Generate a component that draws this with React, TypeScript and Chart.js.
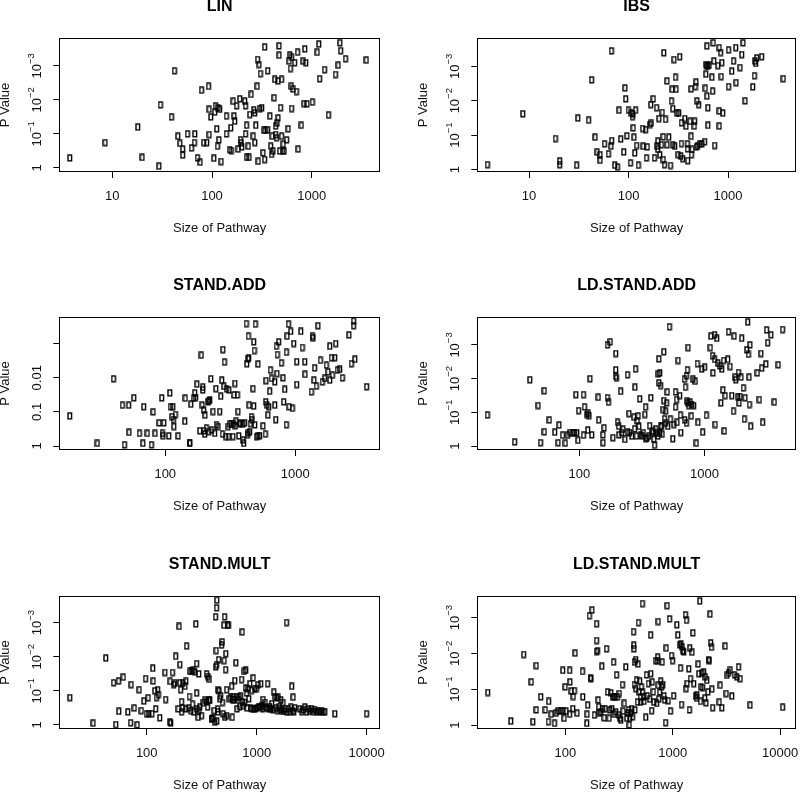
import React, { useEffect, useRef } from "react";
import { Chart, registerables } from "chart.js";

Chart.register(...registerables);

const FONT = "'Liberation Sans', Arial, Helvetica, sans-serif";

// ---------- text ----------
const panelTitles = ["LIN", "IBS", "STAND.ADD", "LD.STAND.ADD", "STAND.MULT", "LD.STAND.MULT"];
const xAxisTitle = "Size of Pathway";
const yAxisTitle = "P Value";

// ---------- tick values / labels ----------
const xTicksLinIbs = [10, 100, 1000];
const xTicksAdd = [100, 1000];
const xTicksMult = [100, 1000, 10000];
const yTickValues = [1, 0.1, 0.01, 0.001];
const yTickLabelsPow = [["1", ""], ["10", "\u22121"], ["10", "\u22122"], ["10", "\u22123"]];
const yTickLabelsDec = [["1", ""], ["0.1", ""], ["0.01", ""], ["", ""]];

// ---------- data: LIN ----------
const linSize = [3.76, 8.5, 18.1, 20, 29.5, 30.5, 39.4, 42.2, 45.7, 47.9, 51, 51, 57, 62.5, 67.6, 67, 71.8, 76.4, 83, 78.8, 89, 92.7, 94, 94, 97.7, 105, 107, 109, 112, 114, 116, 118, 120, 124, 140, 140, 151, 155, 157, 164, 167, 170, 177, 184, 191, 194, 197, 200, 214, 218, 218, 223, 223, 232, 237, 240, 248, 260, 264, 270, 270, 276, 285, 288, 292, 298, 303, 307, 317, 327, 332, 339, 339, 345, 363, 363, 383, 390, 397, 403, 412, 422, 428, 436, 436, 446, 452, 462, 462, 473, 473, 479, 489, 500, 500, 513, 520, 532, 562, 583, 597, 605, 614, 627, 630, 630, 654, 677, 705, 724, 734, 790, 824, 843, 857, 877, 903, 1020, 1140, 1185, 1205, 1350, 1480, 1740, 1850, 1930, 1960, 2190, 3540];
const linP = [0.51, 0.18, 0.063, 0.49, 0.89, 0.014, 0.032, 0.0014, 0.117, 0.19, 0.28, 0.42, 0.1, 0.26, 0.1, 0.18, 0.51, 0.68, 0.18, 0.0052, 0.18, 0.004, 0.105, 0.019, 0.032, 0.52, 0.023, 0.015, 0.071, 0.23, 0.017, 0.15, 0.019, 0.65, 0.1, 0.03, 0.29, 0.066, 0.31, 0.011, 0.03, 0.042, 0.015, 0.28, 0.0093, 0.15, 0.18, 0.24, 0.011, 0.015, 0.1, 0.056, 0.49, 0.23, 0.49, 0.027, 0.0069, 0.117, 0.02, 0.024, 0.18, 0.056, 0.004, 0.00065, 0.64, 0.00091, 0.018, 0.0017, 0.017, 0.36, 0.079, 0.00028, 0.57, 0.079, 0.0014, 0.075, 0.03, 0.23, 0.4, 0.117, 0.32, 0.0087, 0.0025, 0.059, 0.105, 0.13, 0.048, 0.0028, 0.034, 0.00026, 0.00049, 0.32, 0.017, 0.117, 0.0025, 0.32, 0.2, 0.32, 0.15, 0.071, 0.00073, 0.00048, 0.0012, 0.004, 0.018, 0.00056, 0.0048, 0.00081, 0.0057, 0.0004, 0.28, 0.056, 0.00073, 0.0129, 0.00032, 0.00081, 0.013, 0.0117, 0.0004, 0.00023, 0.0024, 0.0013, 0.028, 0.0018, 0.00096, 0.00021, 0.00036, 0.00062, 0.00068];

// ---------- data: IBS ----------
const ibsSize = [3.83, 8.7, 18.5, 20.4, 20.4, 30.2, 31.1, 39.8, 42.7, 46.4, 48.6, 52, 52, 57.5, 63, 67.6, 67, 68, 73, 77.6, 80.7, 83.8, 89.8, 92.6, 94, 97, 100, 105, 107, 110, 111, 112, 114, 116, 118, 121, 126, 139, 141, 149, 152, 155, 166, 168, 170, 178, 183, 192, 195, 198, 198, 203, 207, 215, 219, 224, 224, 227, 231, 236, 245, 245, 255, 265, 271, 275, 280, 280, 288, 293, 297, 302, 309, 316, 321, 328, 336, 341, 341, 352, 369, 380, 392, 392, 395, 417, 427, 427, 430, 437, 460, 464, 471, 479, 482, 490, 497, 509, 521, 550, 584, 602, 593, 602, 612, 617, 617, 630, 630, 630, 650, 692, 703, 713, 724, 736, 794, 819, 819, 819, 845, 858, 871, 891, 1016, 1016, 1096, 1140, 1202, 1211, 1327, 1380, 1423, 1490, 1780, 1849, 1875, 1906, 1950, 2188, 3605];
const ibsP = [0.72, 0.024, 0.126, 0.57, 0.72, 0.75, 0.032, 0.037, 0.0025, 0.115, 0.31, 0.37, 0.54, 0.18, 0.35, 0.00036, 0.21, 0.145, 0.75, 0.84, 0.019, 0.13, 0.31, 0.0043, 0.0089, 0.105, 0.019, 0.64, 0.023, 0.029, 0.024, 0.062, 0.115, 0.33, 0.019, 0.2, 0.75, 0.064, 0.21, 0.069, 0.46, 0.22, 0.049, 0.013, 0.044, 0.0089, 0.46, 0.016, 0.21, 0.15, 0.26, 0.033, 0.37, 0.19, 0.022, 0.112, 0.51, 0.00041, 0.72, 0.035, 0.0027, 0.19, 0.115, 0.76, 0.0103, 0.0047, 0.017, 0.19, 0.00064, 0.21, 0.0021, 0.0047, 0.023, 0.37, 0.023, 0.00053, 0.41, 0.044, 0.176, 0.48, 0.033, 0.055, 0.18, 0.25, 0.55, 0.04, 0.0046, 0.108, 0.37, 0.26, 0.055, 0.04, 0.0039, 0.0029, 0.22, 0.0103, 0.2, 0.013, 0.18, 0.18, 0.156, 0.00089, 0.0044, 0.0017, 0.00099, 0.00026, 0.0074, 0.00099, 0.052, 0.016, 0.00093, 0.0021, 0.0053, 0.00021, 0.00071, 0.2, 0.00096, 0.00029, 0.02, 0.055, 0.0004, 0.002, 0.00079, 0.023, 0.00034, 0.0039, 0.0014, 0.00071, 0.00029, 0.003, 0.0011, 0.00046, 0.00021, 0.0101, 0.004, 0.0019, 0.00071, 0.00083, 0.00058, 0.00053, 0.0023];

// ---------- data: STAND.ADD ----------
const standAddSize = [18.5, 30.1, 40.1, 47, 48.7, 52.5, 52.8, 57.6, 63.5, 67.6, 68.5, 73, 78.5, 81, 83.8, 90, 94.2, 95.4, 96.5, 98, 107, 109, 110, 113, 115, 116, 117, 120, 126, 142, 143, 155, 155, 158, 166, 169, 172, 176, 185, 190, 193, 195, 195, 198, 199, 202, 203, 208, 214, 217, 218, 221, 225, 227, 234, 241, 246, 248, 256, 263, 268, 273, 276, 279, 284, 286, 293, 296, 305, 307, 310, 314, 324, 333, 336, 339, 345, 347, 352, 360, 364, 369, 375, 380, 398, 398, 403, 410, 422, 425, 430, 435, 435, 437, 440, 443, 448, 453, 461, 467, 475, 481, 481, 486, 490, 495, 505, 519, 519, 535, 567, 591, 595, 598, 609, 619, 627, 638, 646, 658, 698, 698, 710, 718, 727, 731, 748, 785, 809, 818, 833, 858, 858, 867, 890, 900, 926, 953, 976, 1030, 1030, 1107, 1138, 1186, 1193, 1336, 1360, 1374, 1400, 1414, 1458, 1502, 1567, 1622, 1690, 1740, 1794, 1849, 1849, 1904, 1937, 2018, 2055, 2118, 2208, 2313, 2602, 2711, 2820, 2820, 2886, 3550];
const standAddP = [0.133, 0.84, 0.0108, 0.064, 0.93, 0.064, 0.4, 0.039, 0.43, 0.84, 0.071, 0.43, 0.93, 0.1, 0.43, 0.21, 0.039, 0.43, 0.5, 0.21, 0.51, 0.028, 0.071, 0.14, 0.071, 0.17, 0.27, 0.12, 0.51, 0.19, 0.04, 0.8, 0.84, 0.06, 0.04, 0.028, 0.038, 0.0155, 0.36, 0.0022, 0.064, 0.019, 0.023, 0.089, 0.36, 0.45, 0.125, 0.3, 0.051, 0.049, 0.38, 0.045, 0.0108, 0.34, 0.098, 0.43, 0.021, 0.24, 0.27, 0.098, 0.035, 0.012, 0.45, 0.0015, 0.018, 0.0035, 0.53, 0.021, 0.27, 0.53, 0.023, 0.23, 0.22, 0.53, 0.23, 0.032, 0.0148, 0.26, 0.19, 0.032, 0.098, 0.51, 0.23, 0.21, 0.23, 0.67, 0.84, 0.21, 0.00026, 0.0039, 0.48, 0.0028, 0.41, 0.00061, 0.0026, 0.064, 0.38, 0.22, 0.14, 0.17, 0.021, 0.00089, 0.068, 0.0016, 0.24, 0.00027, 0.53, 0.004, 0.5, 0.5, 0.26, 0.45, 0.051, 0.0122, 0.064, 0.125, 0.071, 0.025, 0.006, 0.0105, 0.064, 0.0132, 0.17, 0.0012, 0.0076, 0.0021, 0.00089, 0.0037, 0.0101, 0.051, 0.022, 0.24, 0.0018, 0.00061, 0.00027, 0.071, 0.00044, 0.079, 0.001, 0.0034, 0.0159, 0.00044, 0.0013, 0.0034, 0.008, 0.026, 0.00061, 0.00069, 0.0118, 0.0052, 0.0177, 0.0003, 0.0031, 0.0132, 0.0105, 0.0043, 0.0068, 0.0012, 0.0118, 0.0026, 0.0085, 0.0026, 0.001, 0.006, 0.0057, 0.0101, 0.00056, 0.0039, 0.00022, 0.0003, 0.0029, 0.0185];

// ---------- data: LD.STAND.ADD ----------
const ldStandAddSize = [18.4, 30.4, 40.3, 46.9, 49, 52.5, 52.5, 57.6, 63.7, 67.7, 68.9, 73.6, 77.3, 80.7, 84.3, 88.5, 91.8, 94, 95.6, 97.6, 98.8, 108, 108, 110, 115, 117, 118, 120, 122, 126, 142, 143, 155, 155, 158, 168, 168, 171, 177, 186, 196, 196, 196, 198, 202, 206, 208, 214, 218, 224, 232, 243, 244, 250, 253, 263, 274, 277, 279, 282, 286, 291, 296, 300, 304, 309, 319, 325, 335, 339, 343, 350, 360, 365, 374, 383, 389, 396, 400, 407, 420, 426, 428, 434, 434, 441, 441, 447, 447, 455, 461, 469, 475, 475, 481, 490, 490, 499, 505, 511, 526, 536, 560, 573, 588, 588, 599, 606, 617, 636, 644, 649, 693, 697, 706, 719, 719, 728, 732, 742, 742, 750, 773, 787, 795, 813, 823, 847, 863, 880, 891, 956, 970, 1006, 1038, 1116, 1130, 1164, 1174, 1208, 1208, 1223, 1260, 1286, 1340, 1358, 1382, 1410, 1425, 1445, 1469, 1542, 1563, 1611, 1660, 1711, 1733, 1766, 1787, 1852, 1876, 1899, 1935, 1970, 1993, 2055, 2090, 2117, 2186, 2225, 2254, 2282, 2295, 2323, 2348, 2654, 2754, 2840, 2875, 2930, 3114, 3150, 3213, 3414, 3630, 3900, 4226];
const ldStandAddP = [0.12, 0.76, 0.0108, 0.063, 0.8, 0.023, 0.38, 0.17, 0.39, 0.8, 0.24, 0.48, 0.83, 0.48, 0.4, 0.4, 0.4, 0.03, 0.4, 0.68, 0.089, 0.03, 0.48, 0.069, 0.116, 0.34, 0.108, 0.125, 0.0101, 0.47, 0.036, 0.17, 0.47, 0.8, 0.29, 0.001, 0.037, 0.05, 0.00081, 0.57, 0.0018, 0.0055, 0.0086, 0.0097, 0.2, 0.26, 0.47, 0.024, 0.4, 0.32, 0.64, 0.0077, 0.39, 0.11, 0.4, 0.51, 0.14, 0.31, 0.018, 0.0052, 0.51, 0.18, 0.13, 0.26, 0.04, 0.48, 0.51, 0.4, 0.116, 0.07, 0.61, 0.57, 0.51, 0.25, 0.037, 0.4, 0.36, 0.64, 0.95, 0.31, 0.4, 0.51, 0.0072, 0.0026, 0.0135, 0.42, 0.0068, 0.016, 0.26, 0.26, 0.45, 0.083, 0.0016, 0.045, 0.156, 0.093, 0.21, 0.053, 0.025, 0.26, 0.00029, 0.16, 0.61, 0.23, 0.025, 0.07, 0.042, 0.2, 0.0029, 0.032, 0.122, 0.4, 0.0104, 0.17, 0.018, 0.0083, 0.21, 0.047, 0.0055, 0.0012, 0.053, 0.063, 0.05, 0.13, 0.059, 0.0104, 0.063, 0.012, 0.83, 0.0036, 0.2, 0.0052, 0.39, 0.0046, 0.124, 0.0012, 0.00055, 0.0021, 0.0068, 0.0005, 0.0027, 0.23, 0.00064, 0.0035, 0.0042, 0.053, 0.0052, 0.022, 0.0029, 0.36, 0.032, 0.0027, 0.00041, 0.0044, 0.032, 0.093, 0.00055, 0.0091, 0.0108, 0.034, 0.0066, 0.053, 0.034, 0.0091, 0.00064, 0.019, 0.16, 0.037, 0.0014, 0.00021, 0.0019, 0.0091, 0.059, 0.001, 0.26, 0.0068, 0.042, 0.0018, 0.0049, 0.2, 0.0037, 0.00036, 0.00086, 0.0005, 0.05, 0.0039, 0.00035];

// ---------- data: STAND.MULT ----------
const standMultSize = [20.1, 32.7, 42.6, 50.1, 52.6, 55.6, 56, 61.4, 67.6, 71.6, 72.4, 77.3, 82.2, 85.7, 89.5, 94.6, 97.9, 100, 103.5, 105, 112, 114, 115, 119, 121, 123, 126, 128, 132, 147, 149, 163, 166, 164, 172, 177, 181, 184, 194, 198, 201, 201, 204, 208, 208, 212, 215, 224, 228, 228, 231, 241, 245, 248, 253, 257, 262, 266, 269, 275, 281, 285, 285, 289, 295, 299, 301, 305, 316, 327, 339, 351, 353, 359, 363, 369, 372, 377, 389, 395, 404, 412, 418, 424, 427, 430, 433, 433, 436, 436, 442, 445, 449, 452, 457, 464, 471, 481, 488, 490, 498, 505, 508, 512, 515, 523, 526, 534, 534, 545, 556, 565, 580, 593, 602, 605, 614, 627, 635, 649, 658, 667, 681, 695, 705, 716, 731, 741, 746, 757, 773, 784, 795, 800, 811, 822, 839, 851, 870, 882, 901, 913, 933, 946, 966, 980, 1000, 1014, 1035, 1057, 1072, 1095, 1118, 1134, 1149, 1174, 1199, 1232, 1259, 1285, 1320, 1349, 1377, 1418, 1438, 1468, 1499, 1520, 1550, 1574, 1607, 1630, 1665, 1700, 1747, 1781, 1818, 1875, 1900, 1950, 2009, 2052, 2090, 2124, 2154, 2186, 2230, 2477, 2570, 2657, 2753, 2851, 2953, 3058, 3167, 3280, 3397, 3518, 3644, 3773, 3908, 4047, 4190, 5152, 10000];
const standMultP = [0.158, 0.89, 0.011, 0.058, 0.98, 0.052, 0.4, 0.04, 0.42, 0.87, 0.066, 0.32, 1.0, 0.093, 0.38, 0.2, 0.044, 0.47, 0.16, 0.47, 0.47, 0.022, 0.052, 0.1, 0.34, 0.158, 0.093, 0.13, 0.62, 0.029, 0.18, 0.83, 0.89, 0.053, 0.029, 0.066, 0.06, 0.0098, 0.34, 0.0013, 0.017, 0.058, 0.093, 0.21, 0.42, 0.32, 0.06, 0.074, 0.053, 0.34, 0.0049, 0.32, 0.147, 0.027, 0.38, 0.027, 0.25, 0.025, 0.42, 0.028, 0.0011, 0.016, 0.117, 0.34, 0.6, 0.032, 0.38, 0.3, 0.53, 0.22, 0.19, 0.032, 0.21, 0.3, 0.038, 0.19, 0.046, 0.19, 0.67, 0.67, 0.64, 0.38, 0.83, 0.00068, 0.02, 0.0066, 0.017, 0.00037, 0.00022, 0.78, 0.34, 0.42, 0.093, 0.0123, 0.1, 0.17, 0.137, 0.0046, 0.0037, 0.22, 0.47, 0.0012, 0.013, 0.00068, 0.6, 0.024, 0.0082, 0.093, 0.53, 0.0012, 0.0012, 0.17, 0.154, 0.074, 0.6, 0.18, 0.154, 0.18, 0.05, 0.015, 0.154, 0.34, 0.18, 0.154, 0.29, 0.137, 0.047, 0.0019, 0.21, 0.27, 0.027, 0.22, 0.083, 0.025, 0.117, 0.32, 0.086, 0.17, 0.062, 0.32, 0.098, 0.34, 0.042, 0.34, 0.086, 0.34, 0.086, 0.32, 0.066, 0.29, 0.3, 0.062, 0.27, 0.34, 0.18, 0.3, 0.22, 0.32, 0.062, 0.34, 0.29, 0.34, 0.24, 0.36, 0.11, 0.147, 0.32, 0.16, 0.38, 0.154, 0.3, 0.35, 0.19, 0.38, 0.22, 0.4, 0.34, 0.001, 0.42, 0.34, 0.41, 0.3, 0.074, 0.38, 0.154, 0.42, 0.32, 0.34, 0.41, 0.36, 0.3, 0.42, 0.34, 0.4, 0.34, 0.41, 0.36, 0.42, 0.38, 0.41, 0.38, 0.42, 0.41, 0.47, 0.47];

// ---------- data: LD.STAND.MULT ----------
const ldStandMultSize = [19, 31.2, 41.1, 48.4, 50.1, 53.8, 53.8, 59.2, 65.3, 69.7, 70.2, 74.2, 79.5, 82.6, 86.1, 90.5, 95, 95.5, 97.9, 100, 102, 110, 111, 110, 114, 118, 119, 122, 124, 129, 145, 146, 159, 160, 162, 168, 172, 174, 178, 187, 196, 196, 196, 200, 203, 205, 208, 215, 220, 223, 231, 236, 243, 248, 257, 261, 267, 272, 276, 282, 286, 286, 293, 296, 301, 307, 314, 319, 325, 330, 342, 347, 355, 367, 375, 383, 389, 395, 400, 408, 417, 424, 433, 436, 438, 441, 441, 447, 454, 454, 461, 471, 478, 481, 488, 495, 502, 505, 513, 524, 524, 535, 543, 563, 571, 582, 595, 612, 625, 628, 639, 647, 662, 671, 696, 711, 722, 727, 736, 736, 747, 758, 774, 791, 802, 813, 832, 843, 861, 873, 891, 912, 938, 956, 977, 1000, 1023, 1097, 1120, 1169, 1185, 1202, 1211, 1230, 1247, 1274, 1320, 1340, 1349, 1367, 1416, 1436, 1445, 1468, 1520, 1550, 1577, 1634, 1668, 1689, 1731, 1755, 1792, 1818, 1841, 1884, 1906, 1950, 1995, 2019, 2051, 2090, 2138, 2168, 2200, 2237, 2267, 2301, 2328, 2361, 2722, 2781, 2884, 3090, 3162, 3207, 3324, 3445, 3568, 3776, 3979, 4116, 4266, 5272, 10590];
const ldStandMultP = [0.124, 0.78, 0.0108, 0.063, 0.81, 0.022, 0.38, 0.164, 0.38, 0.81, 0.22, 0.5, 0.9, 0.47, 0.4, 0.4, 0.03, 0.4, 0.65, 0.087, 0.41, 0.03, 0.063, 0.5, 0.114, 0.35, 0.16, 0.11, 0.0099, 0.47, 0.032, 0.164, 0.9, 0.5, 0.28, 0.0009, 0.048, 0.051, 0.00062, 0.53, 0.0015, 0.0044, 0.0089, 0.0084, 0.2, 0.31, 0.47, 0.43, 0.023, 0.35, 0.63, 0.35, 0.0075, 0.12, 0.65, 0.38, 0.127, 0.35, 0.164, 0.0176, 0.164, 0.5, 0.164, 0.43, 0.04, 0.164, 0.53, 0.133, 0.65, 0.73, 0.075, 0.41, 0.25, 0.024, 0.65, 0.47, 0.38, 1.0, 0.65, 0.47, 0.35, 0.59, 0.0025, 0.006, 0.0075, 0.0176, 0.075, 0.38, 0.015, 0.096, 0.057, 0.23, 0.02, 0.0014, 0.12, 0.06, 0.164, 0.23, 0.087, 0.00041, 0.12, 0.164, 0.22, 0.61, 0.04, 0.154, 0.07, 0.19, 0.0031, 0.037, 0.4, 0.063, 0.12, 0.23, 0.016, 0.25, 0.016, 0.0128, 0.0013, 0.078, 0.19, 0.12, 0.06, 0.087, 0.0176, 0.075, 0.154, 0.2, 0.86, 0.0072, 0.00047, 0.21, 0.0011, 0.41, 0.0116, 0.016, 0.154, 0.0016, 0.0031, 0.0058, 0.026, 0.0055, 0.27, 0.0066, 0.0084, 0.0091, 0.00085, 0.096, 0.0012, 0.07, 0.027, 0.38, 0.0072, 0.051, 0.0093, 0.0027, 0.07, 0.157, 0.18, 0.142, 0.02, 0.037, 0.00035, 0.22, 0.087, 0.036, 0.09, 0.033, 0.18, 0.046, 0.24, 0.057, 0.12, 0.015, 0.016, 0.00081, 0.0052, 0.0068, 0.1, 0.33, 0.23, 0.078, 0.33, 0.0063, 0.133, 0.041, 0.036, 0.03, 0.157, 0.04, 0.046, 0.024, 0.051, 0.28, 0.32];

// ---------- layout (page pixels) ----------
const COL_CANVAS_LEFT = [-10, 408];
const COL_CANVAS_WIDTH = [400, 392];
const COL_PAD_RIGHT = [10, 2.3];
const Y_AXIS_WIDTH = 69.3;
const X_AXIS_HEIGHT = 64;
const TITLE_BLOCK = 48;
const ROW_TOP = [38, 317, 596];
const ROW_BOTTOM = [172, 450, 729];

type Spec = {
  title: string;
  sizes: number[];
  pvals: number[];
  xMin: number;
  xMax: number;
  yMin: number;
  yMax: number;
  xTicks: number[];
  yLabels: string[][];
  col: number;
  row: number;
};

const specs: Spec[] = [
  { title: panelTitles[0], sizes: linSize, pvals: linP, xMin: 2.94, xMax: 4842, yMin: 1.514e-4, yMax: 1.312, xTicks: xTicksLinIbs, yLabels: yTickLabelsPow, col: 0, row: 0 },
  { title: panelTitles[1], sizes: ibsSize, pvals: ibsP, xMin: 3.02, xMax: 4820, yMin: 1.514e-4, yMax: 1.17, xTicks: xTicksLinIbs, yLabels: yTickLabelsPow, col: 1, row: 0 },
  { title: panelTitles[2], sizes: standAddSize, pvals: standAddP, xMin: 15.31, xMax: 4487, yMin: 1.66e-4, yMax: 1.309, xTicks: xTicksAdd, yLabels: yTickLabelsDec, col: 0, row: 1 },
  { title: panelTitles[3], sizes: ldStandAddSize, pvals: ldStandAddP, xMin: 15.24, xMax: 5395, yMin: 1.479e-4, yMax: 1.312, xTicks: xTicksAdd, yLabels: yTickLabelsPow, col: 1, row: 1 },
  { title: panelTitles[4], sizes: standMultSize, pvals: standMultP, xMin: 16.03, xMax: 13213, yMin: 1.66e-4, yMax: 1.312, xTicks: xTicksMult, yLabels: yTickLabelsPow, col: 0, row: 2 },
  { title: panelTitles[5], sizes: ldStandMultSize, pvals: ldStandMultP, xMin: 15.14, xMax: 14060, yMin: 2.512e-4, yMax: 1.288, xTicks: xTicksMult, yLabels: yTickLabelsPow, col: 1, row: 2 },
];

function makeMarker(): HTMLCanvasElement {
  const c = document.createElement("canvas");
  c.width = 6;
  c.height = 8;
  const g = c.getContext("2d")!;
  g.strokeStyle = "#000";
  g.lineWidth = 1.4;
  g.strokeRect(1, 1, 3.6, 5.8);
  return c;
}

function Panel({ spec }: { spec: Spec }) {
  const ref = useRef<HTMLCanvasElement>(null);
  const left = COL_CANVAS_LEFT[spec.col];
  const width = COL_CANVAS_WIDTH[spec.col];
  const top = ROW_TOP[spec.row] - TITLE_BLOCK;
  const height = ROW_BOTTOM[spec.row] - ROW_TOP[spec.row] + TITLE_BLOCK + X_AXIS_HEIGHT;

  useEffect(() => {
    if (!ref.current) return;
    const marker = makeMarker();
    const boxPlugin = {
      id: "rbox",
      afterDraw(chart: any) {
        const { ctx, chartArea: a } = chart;
        ctx.save();
        ctx.strokeStyle = "#000";
        ctx.lineWidth = 1;
        const l = Math.round(a.left) + 0.5;
        const t = Math.round(a.top) + 0.5;
        const r = Math.round(a.right) - 0.5;
        const b = Math.round(a.bottom) - 0.5;
        ctx.strokeRect(l, t, r - l, b - t);
        const ys = chart.scales.y;
        ctx.fillStyle = "#111";
        yTickValues.forEach((v, i) => {
          const [base, sup] = spec.yLabels[i];
          if (!base) return;
          const py = ys.getPixelForValue(v);
          ctx.save();
          ctx.translate(a.left - 22, py);
          ctx.rotate(-Math.PI / 2);
          ctx.textBaseline = "middle";
          ctx.textAlign = "left";
          ctx.font = `13px ${FONT}`;
          const w1 = ctx.measureText(base).width;
          ctx.font = `9.5px ${FONT}`;
          const w2 = sup ? ctx.measureText(sup).width : 0;
          const start = -(w1 + w2) / 2;
          ctx.font = `13px ${FONT}`;
          ctx.fillText(base, start, 0);
          if (sup) {
            ctx.font = `9.5px ${FONT}`;
            ctx.fillText(sup, start + w1, -5.5);
          }
          ctx.restore();
        });
        ctx.restore();
      },
    };

    const gridOpts = { display: true, drawOnChartArea: false, drawTicks: true, tickLength: 6, color: "#000", lineWidth: 1 };

    const chart = new Chart(ref.current, {
      type: "scatter",
      data: {
        datasets: [
          {
            data: spec.sizes.map((s, i) => ({ x: s, y: spec.pvals[i] })),
            pointStyle: marker as any,
            pointRadius: 3,
            pointHoverRadius: 3,
            borderColor: "#000",
            backgroundColor: "rgba(0,0,0,0)",
          },
        ],
      },
      options: {
        animation: false,
        responsive: false,
        devicePixelRatio: 1,
        events: [],
        layout: { padding: { left: 0, right: COL_PAD_RIGHT[spec.col], top: 0, bottom: 0 } },
        plugins: {
          legend: { display: false },
          tooltip: { enabled: false },
          title: {
            display: true,
            text: spec.title,
            fullSize: false,
            color: "#000",
            font: { family: FONT, size: 16, weight: "bold" },
            padding: { top: 7.4, bottom: 21.4 },
          },
        },
        scales: {
          x: {
            type: "logarithmic",
            position: "bottom",
            bounds: "data",
            min: spec.xMin,
            max: spec.xMax,
            afterBuildTicks: (s: any) => {
              s.ticks = spec.xTicks.map((v) => ({ value: v }));
            },
            afterFit: (s: any) => {
              s.height = X_AXIS_HEIGHT;
              s.paddingLeft = 0;
              s.paddingRight = 0;
            },
            ticks: {
              autoSkip: false,
              maxRotation: 0,
              minRotation: 0,
              padding: 10.6,
              color: "#111",
              font: { family: FONT, size: 13 },
              callback: (v: any) => String(v),
            },
            grid: gridOpts,
            border: { display: false },
            title: { display: true, text: xAxisTitle, color: "#111", font: { family: FONT, size: 13 }, padding: { top: 0, bottom: 0 } },
          },
          y: {
            type: "logarithmic",
            position: "left",
            reverse: true,
            bounds: "data",
            min: spec.yMin,
            max: spec.yMax,
            afterBuildTicks: (s: any) => {
              s.ticks = yTickValues.map((v) => ({ value: v }));
            },
            afterFit: (s: any) => {
              s.width = Y_AXIS_WIDTH;
              s.paddingTop = 0;
              s.paddingBottom = 0;
            },
            ticks: { display: false },
            grid: gridOpts,
            border: { display: false },
            title: { display: true, text: yAxisTitle, color: "#111", font: { family: FONT, size: 13 }, padding: { top: 7.5, bottom: 0 } },
          },
        },
      } as any,
      plugins: [boxPlugin],
    });
    return () => chart.destroy();
  }, []);

  return (
    <canvas
      ref={ref}
      width={width}
      height={height}
      style={{ position: "absolute", left, top, width, height }}
    />
  );
}

export default function App() {
  return (
    <div style={{ position: "absolute", left: 0, top: 0, width: 800, height: 792, overflow: "hidden", background: "#fff" }}>
      {specs.map((s, i) => (
        <Panel key={i} spec={s} />
      ))}
    </div>
  );
}
